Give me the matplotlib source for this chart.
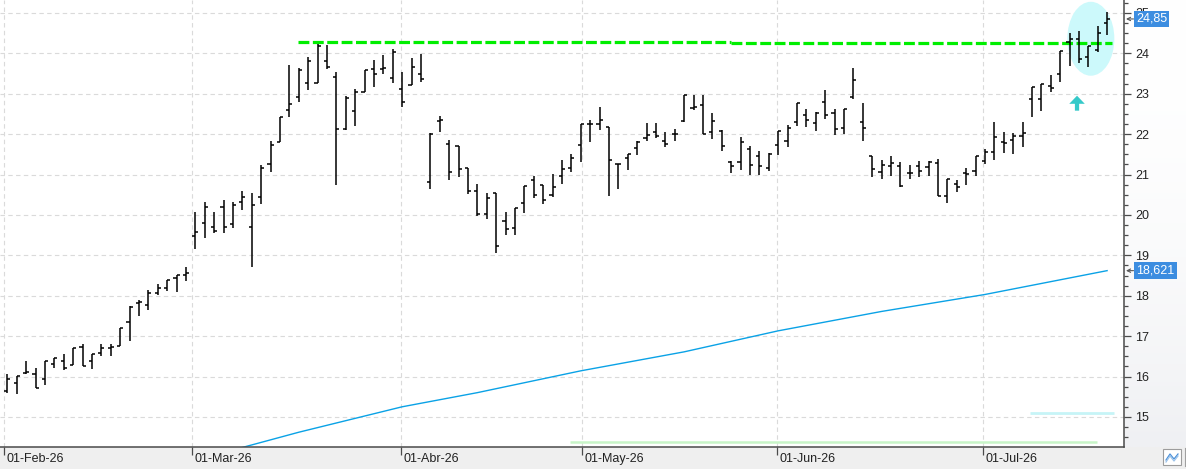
import matplotlib
matplotlib.use('Agg')
import matplotlib.pyplot as plt
import numpy as np
from matplotlib.patches import Ellipse, FancyArrow, Rectangle
from matplotlib.lines import Line2D
from matplotlib.ticker import MultipleLocator, FixedLocator, NullFormatter
from matplotlib.transforms import blended_transform_factory, ScaledTranslation

plt.rcParams['font.family'] = ['Liberation Sans', 'DejaVu Sans']

# ---------------- data ----------------
opens = [15.64, 15.83, 16.08, 16.07, 15.93, 16.31, 16.38, 16.28, 16.74, 16.38,
         16.59, 16.70, 16.76, 17.36, 17.82, 17.78, 18.07, 18.19, 18.44, 18.51,
         19.49, 19.79, 19.69, 20.19, 19.77, 20.33, 19.69, 20.44, 21.26, 21.81,
         22.60, 22.91, 23.26, 23.26, 23.82, 23.41, 22.12, 22.57, 23.03, 23.60,
         23.61, 23.38, 23.11, 23.22, 23.50, 20.81, 22.33, 21.75, 21.71, 21.15,
         20.59, 20.01, 20.53, 19.85, 19.67, 20.29, 20.86, 20.74, 20.49, 20.96,
         21.17, 21.74, 22.24, 22.26, 22.17, 21.26, 21.41, 21.66, 21.90, 22.05,
         21.82, 22.01, 22.32, 22.65, 22.73, 22.05, 22.07, 21.32, 21.32, 21.63,
         21.47, 21.15, 21.73, 21.82, 22.30, 22.48, 22.28, 22.80, 22.53, 22.15,
         22.92, 22.30, 21.46, 21.05, 21.21, 21.21, 21.03, 21.22, 21.19, 21.28,
         20.47, 20.76, 21.04, 21.09, 21.33, 21.55, 21.81, 21.85, 21.95, 22.88,
         22.88, 23.19, 23.49, 24.29, 24.35, 23.92, 24.07, 24.74]
highs = [16.07, 16.02, 16.38, 16.20, 16.38, 16.45, 16.55, 16.70, 16.80, 16.55,
         16.80, 16.80, 17.21, 17.74, 17.90, 18.15, 18.28, 18.40, 18.51, 18.72,
         20.06, 20.31, 20.06, 20.37, 20.31, 20.59, 20.53, 21.24, 21.83, 22.42,
         23.71, 23.63, 23.90, 24.23, 24.21, 23.53, 22.94, 23.11, 23.59, 23.83,
         23.96, 24.10, 23.53, 23.88, 23.98, 22.02, 22.45, 21.85, 21.71, 21.15,
         20.76, 20.53, 20.53, 20.06, 20.16, 20.72, 20.96, 20.74, 21.01, 21.36,
         21.51, 22.24, 22.34, 22.68, 22.17, 21.27, 21.51, 21.82, 22.28, 22.28,
         22.05, 22.13, 22.97, 22.98, 22.97, 22.53, 22.10, 21.34, 21.93, 21.71,
         21.57, 21.54, 22.08, 22.22, 22.76, 22.63, 22.54, 23.08, 22.61, 22.63,
         23.63, 22.76, 21.46, 21.36, 21.46, 21.32, 21.23, 21.33, 21.33, 21.38,
         20.90, 20.86, 21.15, 21.45, 21.64, 22.29, 22.04, 22.02, 22.29, 23.16,
         23.23, 23.46, 24.06, 24.50, 24.55, 24.17, 24.68, 25.02]
lows = [15.60, 15.57, 16.06, 15.72, 15.80, 16.20, 16.16, 16.28, 16.26, 16.18,
        16.51, 16.51, 16.76, 16.89, 17.49, 17.65, 18.01, 18.11, 18.09, 18.36,
        19.16, 19.44, 19.56, 19.56, 19.68, 20.11, 18.72, 20.26, 21.07, 21.80,
        22.43, 22.80, 23.09, 23.26, 23.61, 20.74, 22.09, 22.20, 23.03, 23.17,
        23.50, 23.27, 22.66, 23.22, 23.30, 20.64, 22.06, 20.86, 20.95, 20.51,
        19.98, 19.89, 19.05, 19.50, 19.50, 20.04, 20.41, 20.26, 20.45, 20.76,
        21.05, 21.32, 21.80, 22.11, 20.47, 20.64, 21.12, 21.49, 21.82, 21.90,
        21.68, 21.82, 22.30, 22.59, 22.01, 21.88, 21.59, 21.03, 21.10, 20.99,
        20.98, 21.08, 21.48, 21.67, 22.19, 22.17, 22.07, 22.38, 21.97, 22.00,
        22.86, 21.82, 20.94, 20.88, 20.97, 20.69, 20.88, 20.93, 20.97, 20.47,
        20.29, 20.57, 20.74, 20.97, 21.26, 21.36, 21.54, 21.50, 21.69, 22.43,
        22.58, 23.05, 23.30, 23.69, 23.75, 23.67, 24.04, 24.45]
closes = [15.95, 16.01, 16.10, 15.72, 16.38, 16.45, 16.20, 16.70, 16.26, 16.55,
          16.70, 16.74, 17.21, 17.72, 17.84, 18.07, 18.19, 18.38, 18.51, 18.55,
          19.57, 20.19, 19.61, 19.71, 20.25, 20.45, 20.25, 21.17, 21.73, 22.42,
          22.75, 23.59, 23.82, 24.19, 23.65, 22.13, 22.89, 23.05, 23.59, 23.49,
          23.63, 24.02, 22.80, 23.65, 23.36, 22.00, 22.35, 21.05, 21.13, 20.59,
          20.01, 20.41, 19.23, 19.64, 20.16, 20.72, 20.49, 20.37, 20.70, 21.13,
          21.40, 22.24, 22.26, 22.36, 21.37, 21.26, 21.51, 21.80, 21.99, 21.95,
          21.76, 22.01, 22.97, 22.67, 22.01, 22.32, 21.71, 21.21, 21.80, 21.24,
          21.22, 21.50, 22.08, 22.15, 22.76, 22.36, 22.53, 22.48, 22.13, 22.61,
          23.33, 22.15, 21.13, 21.23, 21.28, 20.72, 21.03, 21.08, 21.30, 20.47,
          20.90, 20.69, 21.02, 21.45, 21.55, 21.92, 21.77, 21.95, 22.02, 23.16,
          23.23, 23.13, 24.06, 24.35, 23.85, 24.17, 24.50, 24.85]

month_labels = ['01-Feb-26', '01-Mar-26', '01-Abr-26', '01-May-26', '01-Jun-26', '01-Jul-26']
month_start_bar = [0, 20, 42, 62, 82, 104]

# moving average (read at several bars)
ma_bar = [24, 31, 42, 50, 61, 72, 82, 93, 104, 117]
ma_value = [14.18, 14.62, 15.25, 15.60, 16.14, 16.61, 17.13, 17.61, 18.03, 18.62]

resistance_bars = [31, 77, 117.5]
resistance_levels = [24.28, 24.255]

y_ticks = list(range(15, 26))
last_label = '24,85'
ma_label = '18,621'

# ---------------- layout ----------------
W, H = 1186, 469
fig = plt.figure(figsize=(W / 100, H / 100), dpi=100)
fig.patch.set_facecolor('white')

axb = 22  # bottom strip height (px)
# bottom strip
fig.add_artist(Rectangle((0, 0), 1, axb / H, transform=fig.transFigure,
                         fc='#efefef', ec='none', zorder=-5))

# right panel with light gradient
pan = fig.add_axes([1124 / W, axb / H, (W - 1124) / W, (H - axb) / H])
grad = np.linspace(0, 1, 200).reshape(-1, 1) ** 2
c_top = np.array([1.0, 1.0, 1.0])
c_bot = np.array([0xef, 0xf0, 0xf3]) / 255
img = c_top[None, None, :] * (1 - grad[..., None]) + c_bot[None, None, :] * grad[..., None]
pan.imshow(img, aspect='auto', extent=(0, 1, 0, 1), origin='upper')
pan.set_axis_off()

ax = fig.add_axes([0, axb / H, 1124 / W, (H - axb) / H])
ax.set_facecolor('white')
n = len(closes)
x = np.arange(n)
px_per_bar = 9.4
x0 = -7.3 / px_per_bar
ax.set_xlim(x0, x0 + 1124 / px_per_bar)
ax.set_ylim(24 - (447 - 53.3) / 40.4, 24 + 53.3 / 40.4)

# grid
for yv in y_ticks:
    ax.axhline(yv, color='#dadada', lw=0.8, ls=(0, (4, 3)), zorder=0)
month_grid = [b - off for b, off in zip(month_start_bar, [0.32, 0.32, 0.1, 0.83, 0.1, 0.2])]
for mx in month_grid:
    ax.axvline(mx, color='#dadada', lw=0.8, ls=(0, (4, 3)), zorder=0)

# ellipse highlight
ax.add_patch(Ellipse((115.27, 24.36), 5.0, 1.83, fc='#ccf9fb', ec='none', zorder=1))

# low reference lines
ax.hlines(14.38, 59.9, 115.9, color='#c8f5c8', lw=1.8, zorder=1)
ax.hlines(15.10, 108.8, 117.7, color='#c6f4f7', lw=2.0, zorder=1)

# moving average
ax.plot(ma_bar, ma_value, color='#0aa2e6', lw=1.0, zorder=2)

# resistance line
ax.hlines(resistance_levels[0], resistance_bars[0] - 0.1, resistance_bars[1], color='#00ee00',
          lw=2.3, ls=(0, (3.4, 1.1)), zorder=3)
ax.hlines(resistance_levels[1], resistance_bars[1], resistance_bars[2], color='#00ee00',
          lw=2.3, ls=(0, (3.4, 1.1)), zorder=3)

# OHLC bars
tick = 0.33
ax.vlines(x, lows, highs, color='black', lw=1.1, zorder=4)
ax.hlines(opens, x - tick, x, color='black', lw=1.1, zorder=4)
ax.hlines(closes, x, x + tick, color='black', lw=1.1, zorder=4)

# arrow
ax.add_patch(FancyArrow(113.8, 22.58, 0, 0.37, width=0.45, head_width=1.65,
                        head_length=0.2, length_includes_head=True,
                        fc='#35c9c9', ec='none', zorder=5))

# axes styling
for s in ['top', 'left']:
    ax.spines[s].set_visible(False)
for s in ['bottom', 'right']:
    ax.spines[s].set_color('#4a4a4a')
    ax.spines[s].set_linewidth(1.1)
ax.yaxis.tick_right()
ax.yaxis.set_major_locator(FixedLocator(y_ticks))
ax.yaxis.set_minor_locator(MultipleLocator(0.25))
ax.yaxis.set_minor_formatter(NullFormatter())
ax.set_yticklabels([str(v) for v in y_ticks])
ax.tick_params(axis='y', which='major', length=5, width=0.9, color='#4a4a4a', pad=3,
               labelsize=9, labelcolor='#222222')
ax.tick_params(axis='y', which='minor', length=3, width=0.9, color='#4a4a4a')
ax.set_xticks(month_grid)
ax.set_xticklabels([''] * len(month_grid))
ax.tick_params(axis='x', which='major', length=5.5, width=0.9, color='#4a4a4a')

trans = blended_transform_factory(ax.transData, ax.transAxes)
for mx, lab in zip(month_grid, month_labels):
    ax.text(mx, -12 / 447, lab, transform=trans + ScaledTranslation(2 / 100, 0, fig.dpi_scale_trans),
            ha='left', va='center', fontsize=9, color='#222222', clip_on=False)

# value labels on right axis
trans_y = blended_transform_factory(ax.transAxes, ax.transData)
for val, lab in [(closes[-1], last_label), (ma_value[-1], ma_label)]:
    ax.text(1136 / 1124, val, lab, transform=trans_y, ha='left', va='center', fontsize=9,
            color='white', clip_on=False, zorder=10,
            bbox=dict(boxstyle='square,pad=0.18', fc='#3c8de0', ec='none'))
    ax.annotate('', xy=(1126 / 1124, val), xytext=(1133.5 / 1124, val), xycoords=trans_y,
                textcoords=trans_y, annotation_clip=False,
                arrowprops=dict(arrowstyle='->', lw=0.8, color='#555555',
                                shrinkA=0, shrinkB=0, mutation_scale=6))

# small icon at bottom right
fig.add_artist(Rectangle((1163 / W, 4 / H), 18 / W, 16 / H, transform=fig.transFigure,
                         fc='white', ec='#9c9c9c', lw=0.8))
zx = np.array([1166, 1170, 1174, 1178]) / W
fig.add_artist(Line2D(zx, np.array([9, 15, 10, 15]) / H, transform=fig.transFigure,
                      color='#4a90d9', lw=0.9))
fig.add_artist(Line2D(zx, np.array([7, 13, 8, 13]) / H, transform=fig.transFigure,
                      color='#9cc3ea', lw=0.9))
fig.add_artist(Line2D([1185 / W, 1185 / W], [3 / H, 21 / H], transform=fig.transFigure,
                      color='#a0a0a0', lw=0.8))

fig.savefig('out.png', dpi=100)
